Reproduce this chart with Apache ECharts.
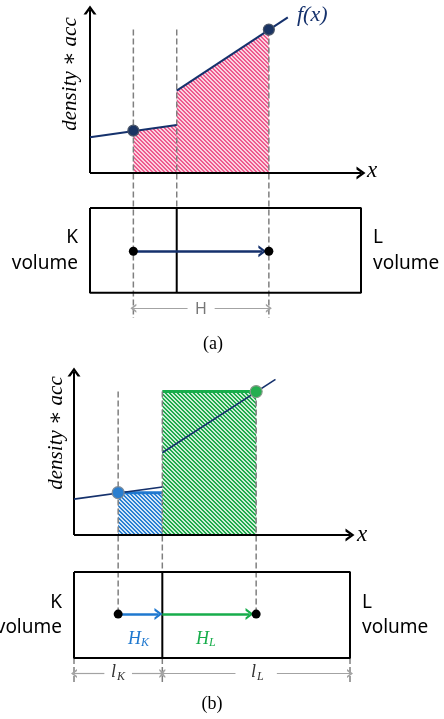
<!DOCTYPE html>
<html>
<head>
<meta charset="utf-8">
<script src="https://cdn.jsdelivr.net/npm/echarts@6/dist/echarts.min.js"></script>
<style>html,body{margin:0;background:#fff}#root{width:444px;height:719px}</style>
</head>
<body>
<div id="root"></div>
<script>
// positions along the K|L cell pair, box length = 0..100
const cellCentres = [16, 66];   // K centre, L centre
const faceX = 32;               // K|L interface
const boxEnds = [0, 100];
// f(x) (0 = x axis, 100 = top of y axis)
const fLeftPiece = [[0, 22], [32, 29.5]];
const fRightPiece = [[32, 50.5], [73, 95.5]];
const fAtCentres = [26, 88];

const NAVY = '#15316c', GREY = '#7f7f7f', DIM = '#a3a3a3', BLUE = '#1f78cf', GREEN = '#17ad4b';
const CHEVRON = 'path://M0,10L5,0L10,10L7.8,10L5,4.4L2.2,10Z';

// layout of the two panels (y in the same units as f)
const panels = [
  {left: 90, width: 271, top: 8.4, boxTop: -21.5, boxBottom: -73.5, arrowY: -48, dimY: -83, dashBottom: -89},
  {left: 74, width: 276, top: 370.4, boxTop: -22.7, boxBottom: -75.5, arrowY: -48.5, dimY: -85, dashBottom: -91}
];

function hatch(bg, fg) {
  const c = document.createElement('canvas');
  c.width = c.height = 4;
  const ctx = c.getContext('2d');
  ctx.fillStyle = bg; ctx.fillRect(0, 0, 4, 4);
  ctx.fillStyle = fg;
  for (let y = 0; y < 4; y++)
    for (let x = 0; x < 4; x++)
      if ((((x - y) % 4) + 4) % 4 < 2) ctx.fillRect(x, y, 1, 1);
  return {image: c, repeat: 'repeat'};
}

function path(p, pts, color, width, dash, z) {
  return {type: 'line', xAxisIndex: p, yAxisIndex: p, data: pts, symbol: 'none', silent: true, clip: false,
    lineStyle: {color: color, width: width, type: dash ? [6, 3] : 'solid'}, z: z || 3};
}
function area(p, pts, fill, edge) {
  return {type: 'line', xAxisIndex: p, yAxisIndex: p, data: pts, symbol: 'none', silent: true,
    lineStyle: edge ? {color: edge, width: 3} : {width: 0},
    areaStyle: {color: fill, opacity: 1, origin: 'auto'}, z: 2};
}
function arrow(p, from, to, color, width, size, z) {
  return {type: 'lines', coordinateSystem: 'cartesian2d', xAxisIndex: p, yAxisIndex: p, silent: true, clip: false,
    data: [{coords: [from, to]}], symbol: ['none', CHEVRON], symbolSize: [size, size],
    lineStyle: {color: color, width: width, opacity: 1, curveness: 0}, z: z || 5};
}
function dots(p, pts, color, size, border) {
  return {type: 'scatter', xAxisIndex: p, yAxisIndex: p, data: pts, symbolSize: size, silent: true, clip: false,
    itemStyle: {color: color, borderColor: border || color, borderWidth: border ? 1.2 : 0, opacity: 1}, z: 7};
}
function boxSeries(p) {
  const L = panels[p];
  return [
    path(p, [[boxEnds[0], L.boxTop], [boxEnds[1], L.boxTop], [boxEnds[1], L.boxBottom],
             [boxEnds[0], L.boxBottom], [boxEnds[0], L.boxTop]], '#000', 2, false, 4),
    path(p, [[faceX, L.boxTop], [faceX, L.boxBottom]], '#000', 2, false, 4)
  ];
}
function axesSeries(p) {
  return [
    arrow(p, [0, 0], [0, 100], '#000', 2, [13, 9], 4),
    arrow(p, [0, 0], [100, 0], '#000', 2, [13, 9], 4)
  ];
}
function dimArrows(p, a, b, gap) {
  const y = panels[p].dimY, mid = (a + b) / 2;
  return [arrow(p, [mid - gap, y], [a, y], DIM, 1.2, [9, 6]),
          arrow(p, [mid + gap, y], [b, y], DIM, 1.2, [9, 6])];
}

const pink = hatch('#fbd3e0', '#ee5a8e');
const blueHatch = hatch('#d3e6f7', '#2b80d2');
const greenHatch = hatch('#cdeed6', '#1faa4c');

const [kx, lx] = cellCentres;
const [fk, fl] = fAtCentres;
const A = panels[0], B = panels[1];

const series = [
  // (a)
  area(0, [[kx, fk], fLeftPiece[1]], pink),
  area(0, [fRightPiece[0], [lx, fl]], pink),
  path(0, [[kx, fl], [kx, A.dashBottom]], GREY, 1.5, true),
  path(0, [[faceX, fl], [faceX, A.boxTop]], GREY, 1.5, true),
  path(0, [[lx, fl], [lx, A.dashBottom]], GREY, 1.5, true),
  path(0, fLeftPiece, NAVY, 2, false, 4),
  path(0, fRightPiece, NAVY, 2, false, 4),
  ...axesSeries(0),
  dots(0, [[kx, fk], [lx, fl]], '#1a3463', 11, '#4a5568'),
  ...boxSeries(0),
  arrow(0, [kx, A.arrowY], [lx - 2.4, A.arrowY], NAVY, 2.5, [12, 8]),
  dots(0, [[kx, A.arrowY], [lx, A.arrowY]], '#000', 9),
  ...dimArrows(0, kx, lx, 5),
  // (b)
  area(1, [[kx, fk], [faceX, fk]], blueHatch, BLUE),
  area(1, [[faceX, fl], [lx, fl]], greenHatch, GREEN),
  path(1, [[kx, fl], [kx, B.arrowY]], GREY, 1.5, true),
  path(1, [[faceX, fl], [faceX, B.boxTop]], GREY, 1.5, true),
  path(1, [[lx, fl], [lx, B.arrowY]], GREY, 1.5, true),
  path(1, [[boxEnds[0], B.boxBottom], [boxEnds[0], B.dashBottom]], GREY, 1.5, true),
  path(1, [[faceX, B.boxBottom], [faceX, B.dashBottom]], GREY, 1.5, true),
  path(1, [[boxEnds[1], B.boxBottom], [boxEnds[1], B.dashBottom]], GREY, 1.5, true),
  path(1, fLeftPiece, NAVY, 1.6, false, 4),
  path(1, fRightPiece, NAVY, 1.6, false, 4),
  ...axesSeries(1),
  dots(1, [[kx, fk]], '#2a7fd0', 12, '#7d8b99'),
  dots(1, [[lx, fl]], '#25ae50', 12, '#8a9a8c'),
  ...boxSeries(1),
  arrow(1, [kx, B.arrowY], [faceX - 1.4, B.arrowY], BLUE, 2.5, [12, 8]),
  arrow(1, [faceX, B.arrowY], [lx - 2.4, B.arrowY], GREEN, 2.5, [12, 8]),
  dots(1, [[kx, B.arrowY], [lx, B.arrowY]], '#000', 9),
  ...dimArrows(1, boxEnds[0], faceX, 5),
  ...dimArrows(1, faceX, boxEnds[1], 7.5)
];

const SERIF_I = '"Liberation Serif", "DejaVu Serif", serif';
const SANS = '"Noto Sans", "DejaVu Sans", sans-serif';
function txt(s, x, y, font, fill, align, rot) {
  return {type: 'text', x: x, y: y, rotation: rot || 0, z: 100, silent: true,
    style: {text: s, font: font, fill: fill || '#000', align: align || 'center', verticalAlign: 'middle'}};
}
const graphics = [
  txt('density \u2217 acc', 70, 74, 'italic 21px ' + SERIF_I, '#000', 'center', Math.PI / 2),
  txt('f(x)', 297, 15, 'italic 22px ' + SERIF_I, NAVY, 'left'),
  txt('x', 372, 171, 'italic 23px ' + SERIF_I),
  txt('K', 78, 238, '19px ' + SANS, '#000', 'right'),
  txt('volume', 78, 264, '19px ' + SANS, '#000', 'right'),
  txt('L', 373, 238, '19px ' + SANS, '#000', 'left'),
  txt('volume', 373, 264, '19px ' + SANS, '#000', 'left'),
  txt('H', 201, 309, '16px ' + SANS, '#777'),
  txt('(a)', 213, 344, '18px "Liberation Serif", serif'),

  txt('density \u2217 acc', 56, 433, 'italic 21px ' + SERIF_I, '#000', 'center', Math.PI / 2),
  txt('x', 362, 535, 'italic 23px ' + SERIF_I),
  txt('K', 62, 603, '19px ' + SANS, '#000', 'right'),
  txt('volume', 62, 628, '19px ' + SANS, '#000', 'right'),
  txt('L', 362, 603, '19px ' + SANS, '#000', 'left'),
  txt('volume', 362, 628, '19px ' + SANS, '#000', 'left'),
  txt('H', 128, 639, 'italic 18px ' + SERIF_I, BLUE, 'left'),
  txt('K', 141, 643, 'italic 12px ' + SERIF_I, BLUE, 'left'),
  txt('H', 196, 639, 'italic 18px ' + SERIF_I, GREEN, 'left'),
  txt('L', 209, 643, 'italic 12px ' + SERIF_I, GREEN, 'left'),
  txt('l', 111, 672, 'italic 18px ' + SERIF_I, '#333', 'left'),
  txt('K', 117, 677, 'italic 12px ' + SERIF_I, '#333', 'left'),
  txt('l', 251, 672, 'italic 18px ' + SERIF_I, '#333', 'left'),
  txt('L', 257, 677, 'italic 12px ' + SERIF_I, '#333', 'left'),
  txt('(b)', 212, 704, '18px "Liberation Serif", serif')
];

const chart = echarts.init(document.getElementById('root'), null, {renderer: 'canvas'});
chart.setOption({
  animation: false,
  backgroundColor: '#fff',
  grid: panels.map(L => ({left: L.left, width: L.width, top: L.top, height: 343.9})),
  xAxis: panels.map((L, i) => ({gridIndex: i, type: 'value', min: 0, max: 100, show: false})),
  yAxis: panels.map((L, i) => ({gridIndex: i, type: 'value', min: -110, max: 101, show: false})),
  series: series,
  graphic: graphics
});
</script>
</body>
</html>
